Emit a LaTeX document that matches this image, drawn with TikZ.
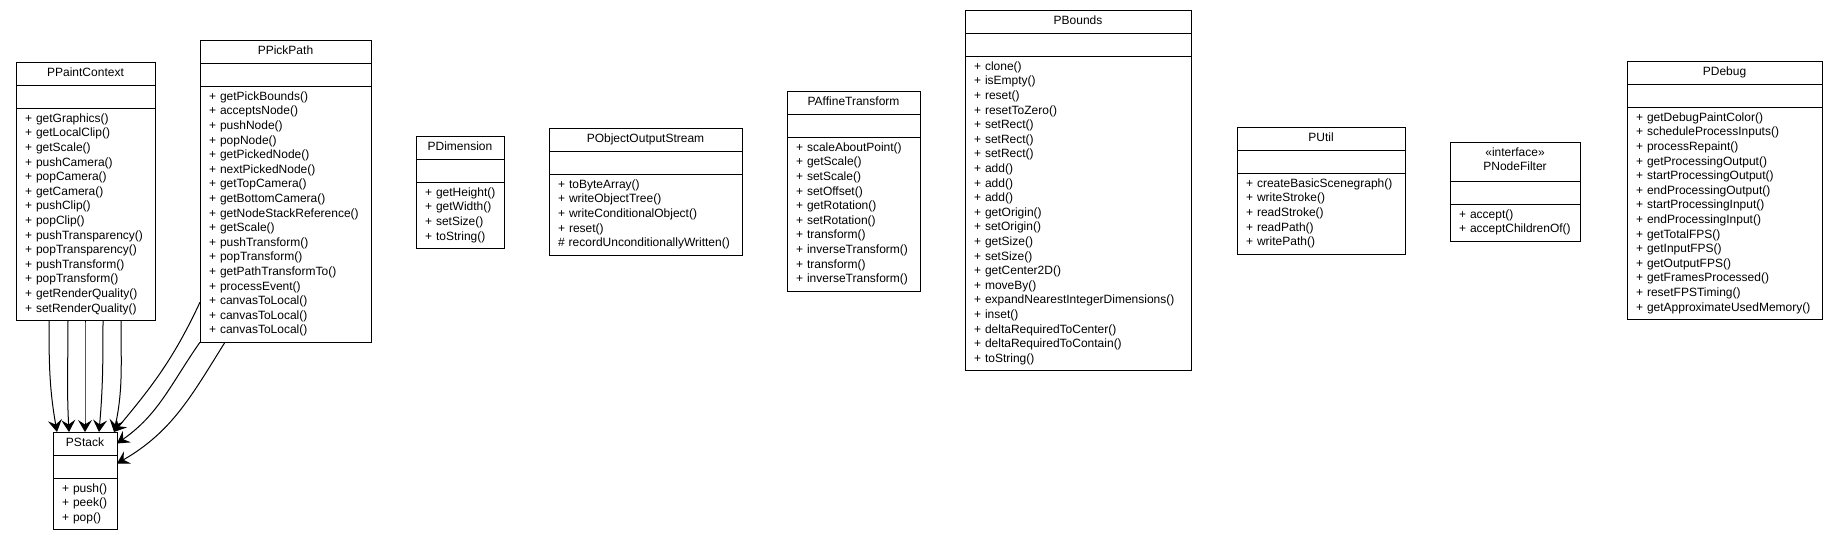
\documentclass[tikz,border=0pt]{standalone}
\usepackage{fontspec}
\setmainfont{Liberation Sans}
\usetikzlibrary{positioning,arrows.meta}
\newcommand{\cfont}{\fontsize{12}{14.6}\selectfont}
\newcommand{\mth}[1]{\strut\mbox{+ #1()}}
\tikzset{
		cname/.style={draw, line width=1pt, anchor=north west, minimum width=#1, minimum height=23pt,
			inner sep=0pt, outer sep=0pt, align=center, font=\cfont, execute at begin node=\strut},
		cattr/.style={draw, line width=1pt, minimum width=#1, minimum height=23pt, inner sep=0pt, outer sep=0pt},
		cops/.style={draw, line width=1pt, text width=#1, inner xsep=9pt, inner ysep=4pt, outer sep=0pt,
			align=left, font=\cfont},
		assoc/.style={line width=1pt, -{Stealth[length=12pt,width=14pt,inset=4.5pt]}}
		}
\begin{document}
\begin{tikzpicture}[x=1pt,y=1pt]
					\useasboundingbox (0,0) rectangle (1837,-541);
					%PPaintContext
					\node[cname=139pt] (ppc) at (16,-62) {PPaintContext};
					\node[cattr=139pt, below=0pt of ppc] (ppc-a) {};
					\node[cops=121pt, below=0pt of ppc-a] (ppc-m) {\mth{getGraphics}\\\mth{getLocalClip}\\\mth{getScale}\\\mth{pushCamera}\\\mth{popCamera}\\\mth{getCamera}\\\mth{pushClip}\\\mth{popClip}\\\mth{pushTransparency}\\\mth{popTransparency}\\\mth{pushTransform}\\\mth{popTransform}\\\mth{getRenderQuality}\\\mth{setRenderQuality}};
					%PPickPath
					\node[cname=171pt] (ppp) at (200,-40) {PPickPath};
					\node[cattr=171pt, below=0pt of ppp] (ppp-a) {};
					\node[cops=153pt, below=0pt of ppp-a] (ppp-m) {\mth{getPickBounds}\\\mth{acceptsNode}\\\mth{pushNode}\\\mth{popNode}\\\mth{getPickedNode}\\\mth{nextPickedNode}\\\mth{getTopCamera}\\\mth{getBottomCamera}\\\mth{getNodeStackReference}\\\mth{getScale}\\\mth{pushTransform}\\\mth{popTransform}\\\mth{getPathTransformTo}\\\mth{processEvent}\\\mth{canvasToLocal}\\\mth{canvasToLocal}\\\mth{canvasToLocal}};
					%PStack
					\node[cname=64pt] (pst) at (53,-432) {PStack};
					\node[cattr=64pt, below=0pt of pst] (pst-a) {};
					\node[cops=46pt, below=0pt of pst-a] (pst-m) {\mth{push}\\\mth{peek}\\\mth{pop}};
					%PDimension
					\node[cname=88pt] (pdim) at (416,-136) {PDimension};
					\node[cattr=88pt, below=0pt of pdim] (pdim-a) {};
					\node[cops=70pt, below=0pt of pdim-a] (pdim-m) {\mth{getHeight}\\\mth{getWidth}\\\mth{setSize}\\\mth{toString}};
					%PObjectOutputStream
					\node[cname=193pt] (poos) at (549,-128) {PObjectOutputStream};
					\node[cattr=193pt, below=0pt of poos] (poos-a) {};
					\node[cops=175pt, below=0pt of poos-a] (poos-m) {\mth{toByteArray}\\\mth{writeObjectTree}\\\mth{writeConditionalObject}\\\mth{reset}\\\strut\mbox{\# recordUnconditionallyWritten()}};
					%PAffineTransform
					\node[cname=133pt] (paff) at (787,-91) {PAffineTransform};
					\node[cattr=133pt, below=0pt of paff] (paff-a) {};
					\node[cops=115pt, below=0pt of paff-a] (paff-m) {\mth{scaleAboutPoint}\\\mth{getScale}\\\mth{setScale}\\\mth{setOffset}\\\mth{getRotation}\\\mth{setRotation}\\\mth{transform}\\\mth{inverseTransform}\\\mth{transform}\\\mth{inverseTransform}};
					%PBounds
					\node[cname=226pt] (pbnd) at (965,-10) {PBounds};
					\node[cattr=226pt, below=0pt of pbnd] (pbnd-a) {};
					\node[cops=208pt, below=0pt of pbnd-a] (pbnd-m) {\mth{clone}\\\mth{isEmpty}\\\mth{reset}\\\mth{resetToZero}\\\mth{setRect}\\\mth{setRect}\\\mth{setRect}\\\mth{add}\\\mth{add}\\\mth{add}\\\mth{getOrigin}\\\mth{setOrigin}\\\mth{getSize}\\\mth{setSize}\\\mth{getCenter2D}\\\mth{moveBy}\\\mth{expandNearestIntegerDimensions}\\\mth{inset}\\\mth{deltaRequiredToCenter}\\\mth{deltaRequiredToContain}\\\mth{toString}};
					%PUtil
					\node[cname=168pt] (putl) at (1237,-127) {PUtil};
					\node[cattr=168pt, below=0pt of putl] (putl-a) {};
					\node[cops=150pt, below=0pt of putl-a] (putl-m) {\mth{createBasicScenegraph}\\\mth{writeStroke}\\\mth{readStroke}\\\mth{readPath}\\\mth{writePath}};
					%PNodeFilter
					\node[cname=130pt, minimum height=39pt] (pnf) at (1450,-142) {«interface»\\\strut PNodeFilter};
					\node[cattr=130pt, below=0pt of pnf] (pnf-a) {};
					\node[cops=112pt, below=0pt of pnf-a] (pnf-m) {\mth{accept}\\\mth{acceptChildrenOf}};
					%PDebug
					\node[cname=195pt] (pdbg) at (1627,-61) {PDebug};
					\node[cattr=195pt, below=0pt of pdbg] (pdbg-a) {};
					\node[cops=177pt, below=0pt of pdbg-a] (pdbg-m) {\mth{getDebugPaintColor}\\\mth{scheduleProcessInputs}\\\mth{processRepaint}\\\mth{getProcessingOutput}\\\mth{startProcessingOutput}\\\mth{endProcessingOutput}\\\mth{startProcessingInput}\\\mth{endProcessingInput}\\\mth{getTotalFPS}\\\mth{getInputFPS}\\\mth{getOutputFPS}\\\mth{getFramesProcessed}\\\mth{resetFPSTiming}\\\mth{getApproximateUsedMemory}};
					%PATHS
					\draw[assoc] ([xshift=33pt]ppc-m.south west) to[out=-90,in=100] ([xshift=4pt]pst.north west);
					\draw[assoc] ([xshift=52pt]ppc-m.south west) to[out=-90,in=93] ([xshift=16pt]pst.north west);
					\draw[assoc] ([xshift=69pt]ppc-m.south west) to[out=-90,in=90] ([xshift=32pt]pst.north west);
					\draw[assoc] ([xshift=87pt]ppc-m.south west) to[out=-90,in=85] ([xshift=46pt]pst.north west);
					\draw[assoc] ([xshift=105pt]ppc-m.south west) to[out=-90,in=78] ([xshift=61pt]pst.north west);
					\draw[assoc] ([yshift=40pt]ppp-m.south west) to[out=-115,in=50] ([xshift=-3pt]pst.north east);
					\draw[assoc] (ppp-m.south west) to[out=-125,in=35] (pst.east);
					\draw[assoc] ([xshift=25pt]ppp-m.south west) to[out=-122,in=30] ([yshift=3pt]pst-a.east);
				\end{tikzpicture}
\end{document}
